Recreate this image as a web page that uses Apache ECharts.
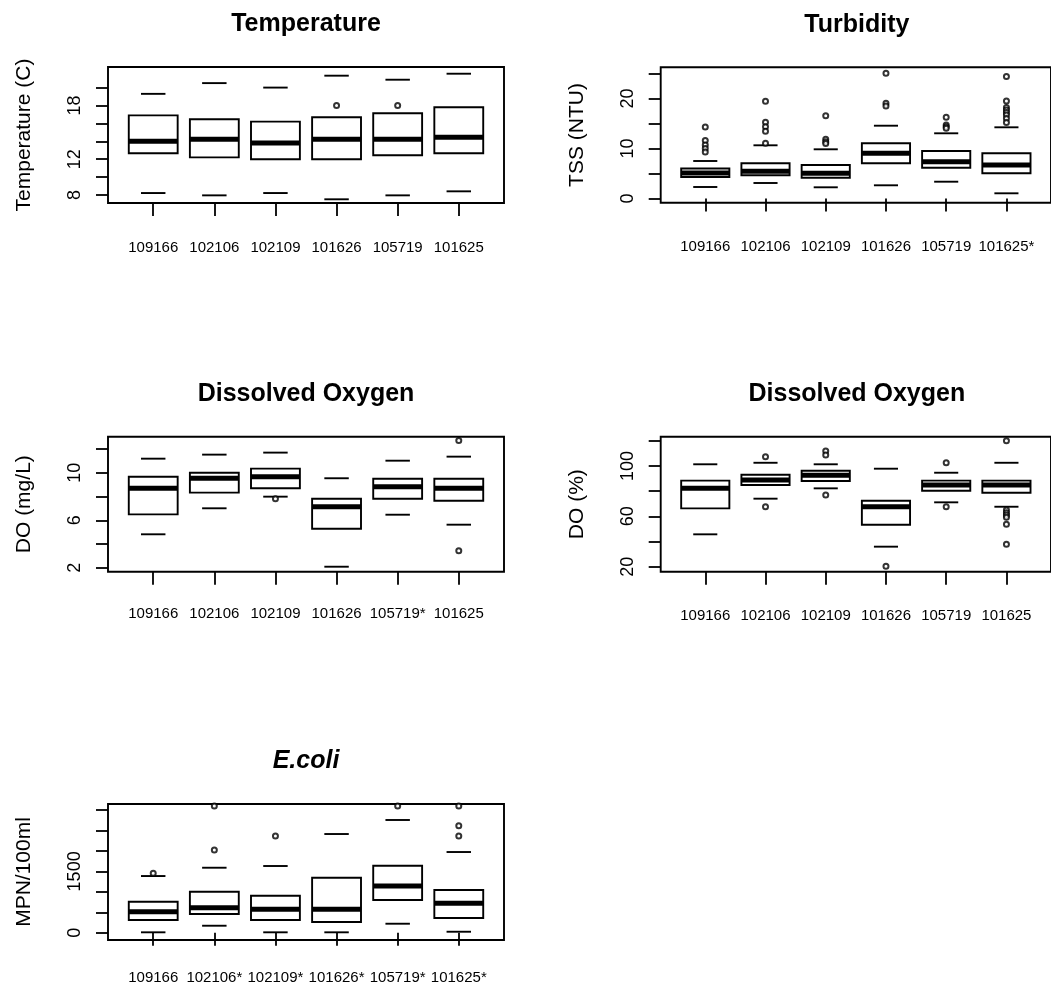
<!DOCTYPE html>
<html>
<head>
<meta charset="utf-8">
<script src="https://cdn.jsdelivr.net/npm/echarts@6/dist/echarts.min.js"></script>
<style>
html,body{margin:0;padding:0;background:#fff;}
#chart{width:1051px;height:985px;}
</style>
</head>
<body>
<div id="chart"></div>
<script>
// ---------- Data ----------
// stats rows: [lower whisker, Q1, median, Q3, upper whisker]
const tempCategories = ['109166','102106','102109','101626','105719','101625'];
const tempStats = [
  [8.22, 12.66, 14.0, 16.9, 19.3],
  [7.96, 12.2, 14.22, 16.46, 20.5],
  [8.22, 12.0, 13.8, 16.2, 20.0],
  [7.52, 12.0, 14.22, 16.68, 21.33],
  [7.96, 12.44, 14.22, 17.13, 20.88],
  [8.41, 12.66, 14.45, 17.8, 21.55]
];
const tempOutliers = [[4, 18.0], [5, 18.0]];
const tempTicks = [8, 10, 12, 14, 16, 18, 20];
const tempTickLabels = [8, 12, 18];

const turbCategories = ['109166','102106','102109','101626','105719','101625*'];
const turbStats = [
  [2.3, 4.3, 5.1, 6.0, 7.5],
  [3.1, 4.64, 5.44, 7.04, 10.64],
  [2.24, 4.16, 5.04, 6.7, 9.84],
  [2.64, 7.04, 9.04, 11.04, 14.56],
  [3.36, 6.16, 7.36, 9.5, 13.04],
  [1.04, 5.04, 6.7, 9.04, 14.24]
];
const turbOutliers = [
  [1, 14.3], [1, 11.6], [1, 10.7], [1, 10.0], [1, 9.3],
  [2, 19.44], [2, 15.24], [2, 14.36], [2, 13.44], [2, 11.04],
  [3, 16.56], [3, 11.84], [3, 11.36], [3, 11.0],
  [4, 25.04], [4, 19.04], [4, 18.5],
  [5, 16.24], [5, 14.7], [5, 14.36], [5, 14.04],
  [6, 24.4], [6, 19.5], [6, 18.2], [6, 17.7], [6, 17.2], [6, 16.7], [6, 16.0], [6, 15.2]
];
const turbTicks = [0, 5, 10, 15, 20, 25];
const turbTickLabels = [0, 10, 20];

const doCategories = ['109166','102106','102109','101626','105719*','101625'];
const doStats = [
  [4.82, 6.5, 8.7, 9.67, 11.19],
  [7.01, 8.33, 9.54, 10.01, 11.53],
  [7.99, 8.7, 9.67, 10.35, 11.7],
  [2.09, 5.29, 7.15, 7.82, 9.54],
  [6.47, 7.82, 8.83, 9.5, 11.02],
  [5.63, 7.65, 8.7, 9.5, 11.36]
];
const doOutliers = [[3, 7.82], [6, 12.71], [6, 3.44]];
const doTicks = [2, 4, 6, 8, 10, 12];
const doTickLabels = [2, 6, 10];

const doPctCategories = ['109166','102106','102109','101626','105719','101625'];
const doPctStats = [
  [45.7, 66.3, 82.2, 88.3, 101.3],
  [74.0, 84.8, 88.8, 93.0, 102.5],
  [82.2, 88.0, 92.5, 96.2, 101.3],
  [35.9, 53.3, 67.6, 72.4, 97.8],
  [71.1, 80.3, 84.8, 88.3, 94.6],
  [67.6, 78.7, 84.8, 88.3, 102.5]
];
const doPctOutliers = [
  [2, 107.3], [2, 67.6],
  [3, 111.8], [3, 108.6], [3, 76.9],
  [4, 20.3],
  [5, 102.5], [5, 67.6],
  [6, 120.0], [6, 65.0], [6, 62.9], [6, 61.0], [6, 59.2], [6, 53.7], [6, 37.8]
];
const doPctTicks = [20, 40, 60, 80, 100, 120];
const doPctTickLabels = [20, 60, 100];

const ecoliCategories = ['109166','102106*','102109*','101626*','105719*','101625*'];
const ecoliStats = [
  [10, 310, 513, 758, 1386],
  [171, 457, 611, 1002, 1589],
  [10, 310, 572, 905, 1631],
  [10, 262, 572, 1345, 2413],
  [220, 800, 1142, 1638, 2756],
  [24, 359, 719, 1044, 1973]
];
const ecoliOutliers = [
  [1, 1452],
  [2, 3098], [2, 2022],
  [3, 2364],
  [5, 3098],
  [6, 3098], [6, 2616], [6, 2364]
];
const ecoliTicks = [0, 500, 1000, 1500, 2000, 2500, 3000];
const ecoliTickLabels = [0, 1500];

// ---------- Layout ----------
const FONT = "'Liberation Sans', Arial, Helvetica, sans-serif";
const panels = [
  {title:'Temperature', yName:'Temperature (C)', cats:tempCategories, stats:tempStats, out:tempOutliers,
   ticks:tempTicks, labels:tempTickLabels, ymin:7.106, ymax:22.30,
   left:108, top:67, width:396, height:136, labelMargin:37},
  {title:'Turbidity', yName:'TSS (NTU)', cats:turbCategories, stats:turbStats, out:turbOutliers,
   ticks:turbTicks, labels:turbTickLabels, ymin:-0.84, ymax:26.24,
   left:660.7, top:67.3, width:392.3, height:135.4, labelMargin:37},
  {title:'Dissolved Oxygen', yName:'DO (mg/L)', cats:doCategories, stats:doStats, out:doOutliers,
   ticks:doTicks, labels:doTickLabels, ymin:1.67, ymax:13.04,
   left:108, top:436.7, width:396, height:135, labelMargin:35},
  {title:'Dissolved Oxygen', yName:'DO (%)', cats:doPctCategories, stats:doPctStats, out:doPctOutliers,
   ticks:doPctTicks, labels:doPctTickLabels, ymin:16.03, ymax:123.2,
   left:660.7, top:436.7, width:392.3, height:135, labelMargin:37},
  {title:'E.coli', italic:true, yName:'MPN/100ml', cats:ecoliCategories, stats:ecoliStats, out:ecoliOutliers,
   ticks:ecoliTicks, labels:ecoliTickLabels, ymin:-178, ymax:3147,
   left:108, top:804, width:396, height:136, labelMargin:30}
];

function renderBox(params, api) {
  const x = api.value(0);
  const lo = api.coord([x, api.value(1)]);
  const q1 = api.coord([x, api.value(2)]);
  const med = api.coord([x, api.value(3)]);
  const q3 = api.coord([x, api.value(4)]);
  const hi = api.coord([x, api.value(5)]);
  const w = api.size([0.8, 0])[0];
  const cx = lo[0];
  const thin = {stroke:'#000', lineWidth:1.9, fill:null};
  return {
    type:'group',
    children:[
      {type:'rect', shape:{x:cx - w/2, y:q3[1], width:w, height:q1[1] - q3[1]}, style:thin},
      {type:'line', shape:{x1:cx - w/2, y1:med[1], x2:cx + w/2, y2:med[1]}, style:{stroke:'#000', lineWidth:5}},
      {type:'line', shape:{x1:cx - w/4, y1:lo[1], x2:cx + w/4, y2:lo[1]}, style:thin},
      {type:'line', shape:{x1:cx - w/4, y1:hi[1], x2:cx + w/4, y2:hi[1]}, style:thin}
    ]
  };
}

const titles = [], grids = [], xAxes = [], yAxes = [], series = [];
panels.forEach((p, i) => {
  titles.push({
    text: p.title, left: p.left + p.width/2, top: p.top - 55, textAlign:'center', padding:0,
    textStyle:{fontFamily:FONT, fontSize:25, fontWeight:'bold', fontStyle: p.italic ? 'italic' : 'normal', color:'#000'}
  });
  grids.push({left:p.left, top:p.top, width:p.width, height:p.height, show:true,
    borderColor:'#000', borderWidth:1.9, backgroundColor:'transparent', containLabel:false});
  const idx = [1,2,3,4,5,6];
  const cats = p.cats;
  xAxes.push({
    type:'value', gridIndex:i, min:0.26, max:6.74,
    axisLine:{show:false}, splitLine:{show:false},
    axisTick:{show:true, customValues:idx, length:13, lineStyle:{color:'#000', width:1.8}},
    axisLabel:{show:true, customValues:idx, margin:p.labelMargin, fontFamily:FONT, fontSize:15, color:'#000',
      formatter:(v) => cats[Math.round(v) - 1] || ''}
  });
  yAxes.push({
    type:'value', gridIndex:i, min:p.ymin, max:p.ymax,
    name:p.yName, nameLocation:'middle', nameGap:73,
    nameTextStyle:{fontFamily:FONT, fontSize:21, color:'#000'},
    axisLine:{show:false}, splitLine:{show:false},
    axisTick:{show:true, customValues:p.ticks, length:12, lineStyle:{color:'#000', width:1.8}},
    axisLabel:{show:true, customValues:p.labels, rotate:90, margin:24, fontFamily:FONT, fontSize:18, color:'#000',
      formatter:(v) => String(v)}
  });
  series.push({
    type:'custom', xAxisIndex:i, yAxisIndex:i, renderItem:renderBox,
    data: p.stats.map((s, k) => [k + 1].concat(s)),
    encode:{x:0, y:[1,2,3,4,5]}, silent:true, animation:false
  });
  series.push({
    type:'scatter', xAxisIndex:i, yAxisIndex:i, data:p.out,
    symbol:'emptyCircle', symbolSize:5,
    itemStyle:{color:'#000', borderColor:'#000', borderWidth:1.6},
    silent:true, animation:false
  });
});

const chart = echarts.init(document.getElementById('chart'), null, {renderer:'canvas'});
chart.setOption({
  backgroundColor:'#fff',
  animation:false,
  title:titles, grid:grids, xAxis:xAxes, yAxis:yAxes, series:series
});
</script>
</body>
</html>
